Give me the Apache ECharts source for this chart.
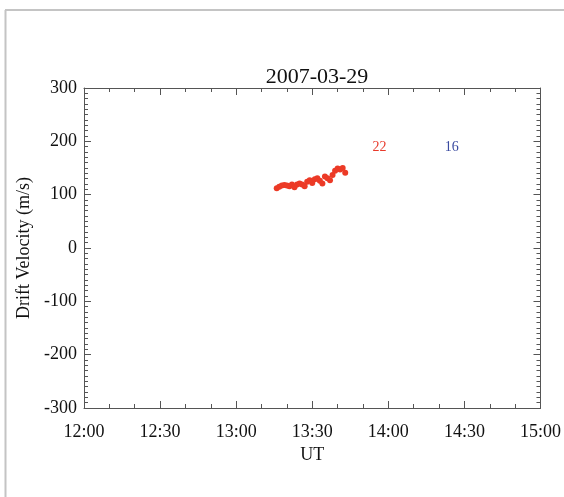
<!DOCTYPE html>
<html>
<head>
<meta charset="utf-8">
<script src="https://cdn.jsdelivr.net/npm/echarts@6/dist/echarts.min.js"></script>
<style>
html,body{margin:0;padding:0;background:#fff;}
#chart{width:564px;height:497px;}
</style>
</head>
<body>
<div id="chart"></div>
<script>
// Time in minutes since 00:00 UT
var times = [796, 797, 798, 799, 800, 801, 802, 803, 804, 805, 806, 807, 808, 809, 810, 811, 812, 813, 814, 815, 816, 817, 818, 819, 820, 821, 822, 823];
var velocities = [112, 115, 117, 118, 117, 116, 119, 114, 119, 121, 119, 116, 124, 127, 122, 129, 131, 126, 121, 134, 131, 127, 137, 145, 149, 147, 150, 141];
var xTicks = ['12:00', '12:30', '13:00', '13:30', '14:00', '14:30', '15:00'];
var annotTimes = [836.5, 865];
var annotValues = [189, 189];
var annotTexts = ['22', '16'];
var annotColors = ['#e8392a', '#3a4aa0'];

var FONT = 'Liberation Serif';
var AXC = '#555555';

var chart = echarts.init(document.getElementById('chart'), null, {renderer: 'canvas'});

var pts = times.map(function (t, i) { return [t, velocities[i]]; });
var annData = annotTimes.map(function (t, i) {
  return {value: [t, annotValues[i]], label: {color: annotColors[i]}, name: annotTexts[i]};
});

var baseAxis = {
  axisLine: {show: true, onZero: false, lineStyle: {color: AXC, width: 1}},
  axisTick: {show: true, inside: true, length: 7, lineStyle: {color: AXC}},
  minorTick: {show: true, length: 4, lineStyle: {color: AXC}},
  splitLine: {show: false},
  minorSplitLine: {show: false}
};

var option = {
  animation: false,
  backgroundColor: '#ffffff',
  title: {
    text: '2007-03-29',
    left: 312, top: 61, textAlign: 'center',
    textStyle: {fontFamily: FONT, fontSize: 22, fontWeight: 'normal', color: '#111'}
  },
  grid: {left: 84, right: 23, top: 88, bottom: 89, containLabel: false},
  xAxis: [
    Object.assign({}, baseAxis, {
      type: 'value', min: 720, max: 900, interval: 30, position: 'bottom',
      minorTick: Object.assign({}, baseAxis.minorTick, {splitNumber: 3}),
      name: 'UT', nameLocation: 'middle', nameGap: 32,
      nameTextStyle: {fontFamily: FONT, fontSize: 18, color: '#111'},
      axisLabel: {
        margin: 15, fontFamily: FONT, fontSize: 18, color: '#111',
        formatter: function (v) { return xTicks[Math.round((v - 720) / 30)]; }
      }
    }),
    Object.assign({}, baseAxis, {
      type: 'value', min: 720, max: 900, interval: 30, position: 'top',
      minorTick: Object.assign({}, baseAxis.minorTick, {splitNumber: 3}),
      axisLabel: {show: false}
    })
  ],
  yAxis: [
    Object.assign({}, baseAxis, {
      type: 'value', min: -300, max: 300, interval: 100, position: 'left',
      minorTick: Object.assign({}, baseAxis.minorTick, {splitNumber: 10}),
      name: 'Drift Velocity (m/s)', nameLocation: 'middle', nameGap: 49,
      nameTextStyle: {fontFamily: FONT, fontSize: 18, color: '#111'},
      axisLabel: {margin: 7, fontFamily: FONT, fontSize: 18, color: '#111'}
    }),
    Object.assign({}, baseAxis, {
      type: 'value', min: -300, max: 300, interval: 100, position: 'right',
      minorTick: Object.assign({}, baseAxis.minorTick, {splitNumber: 10}),
      axisLabel: {show: false}
    })
  ],
  graphic: [
    {type: 'line', shape: {x1: 5.5, y1: 10, x2: 5.5, y2: 497}, style: {stroke: '#c4c4c4', lineWidth: 2}, silent: true},
    {type: 'line', shape: {x1: 5, y1: 10, x2: 564, y2: 10}, style: {stroke: '#c4c4c4', lineWidth: 2}, silent: true}
  ],
  series: [
    {
      type: 'scatter', xAxisIndex: 0, yAxisIndex: 0,
      data: pts, symbol: 'circle', symbolSize: 6,
      itemStyle: {color: '#ec3a26', opacity: 1}
    },
    {
      type: 'scatter', xAxisIndex: 0, yAxisIndex: 0,
      data: annData, symbolSize: 0,
      itemStyle: {opacity: 1},
      label: {
        show: true, position: 'inside', fontFamily: FONT, fontSize: 14,
        formatter: function (p) { return p.name; }
      }
    }
  ]
};
chart.setOption(option);
</script>
</body>
</html>
